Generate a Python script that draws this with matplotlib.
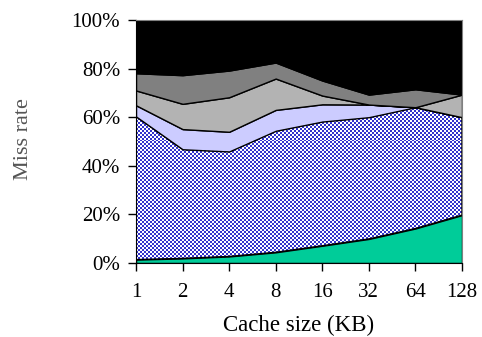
import matplotlib
matplotlib.use("Agg")
import matplotlib.pyplot as plt
import numpy as np

plt.rcParams['font.family'] = ['Liberation Serif', 'DejaVu Serif']

categories = ["1", "2", "4", "8", "16", "32", "64", "128"]
# cumulative boundaries (%) of the stacked layers
top_green = [1.4, 1.9, 2.7, 4.4, 7.1, 9.9, 14.2, 19.7]
top_checker = [60.3, 46.8, 45.9, 54.4, 58.2, 60.0, 64.1, 60.0]
top_lavender = [64.9, 55.1, 54.0, 63.0, 65.3, 65.2, 64.1, 60.0]
top_lightgrey = [71.0, 65.5, 68.2, 75.9, 68.9, 65.2, 64.1, 69.3]
top_midgrey = [78.1, 77.3, 79.2, 82.5, 75.1, 69.3, 71.5, 69.3]
top_black = [100, 100, 100, 100, 100, 100, 100, 100]

yticks = [0, 20, 40, 60, 80, 100]
ytick_labels = ["0%", "20%", "40%", "60%", "80%", "100%"]

x = np.arange(len(categories))
bounds = [np.zeros(len(x)), top_green, top_checker, top_lavender,
          top_lightgrey, top_midgrey, top_black]
colors = ["#00cc99", "none", "#ccccff", "#b3b3b3", "#808080", "#000000"]

fig = plt.figure(figsize=(4.82, 3.37), dpi=100)
ax = fig.add_axes([136/482, 1-263/337, 326/482, 243/337])

polys = []
for i in range(6):
    p = ax.fill_between(x, bounds[i], bounds[i+1], facecolor=colors[i],
                        edgecolor='black', linewidth=1.0, zorder=2)
    polys.append(p)

# checkerboard fill for the second layer
nx, ny = 163, 122
ii, jj = np.meshgrid(np.arange(nx), np.arange(ny))
checker = ((ii + jj) % 2)
rgb = np.ones((ny, nx, 3))
rgb[checker == 0] = np.array([51, 51, 204]) / 255
im = ax.imshow(rgb, extent=[0, 7, 0, 100], aspect='auto',
               interpolation='nearest', zorder=1.5)
im.set_clip_path(polys[1].get_paths()[0], ax.transData)

ax.set_xlim(0, 7)
ax.set_ylim(0, 100)
ax.set_xticks(x)
ax.set_xticklabels(categories)
ax.set_yticks(yticks)
ax.set_yticklabels(ytick_labels)
ax.tick_params(direction='out', length=5.5, width=1, labelsize=15)
ax.tick_params(axis='x', pad=9)
ax.tick_params(axis='y', pad=6)
for s in ['top', 'right']:
    ax.spines[s].set_color('#808080')
for s in ['left', 'bottom']:
    ax.spines[s].set_color('black')
ax.set_xlabel("Cache size (KB)", fontsize=16.5)
ax.xaxis.set_label_coords(0.5, -0.215)
fig.text(24/482, 1-139/337, "Miss rate", rotation=90, fontsize=16,
         color='#555555', ha='center', va='center')

fig.savefig("out.png", dpi=100)
